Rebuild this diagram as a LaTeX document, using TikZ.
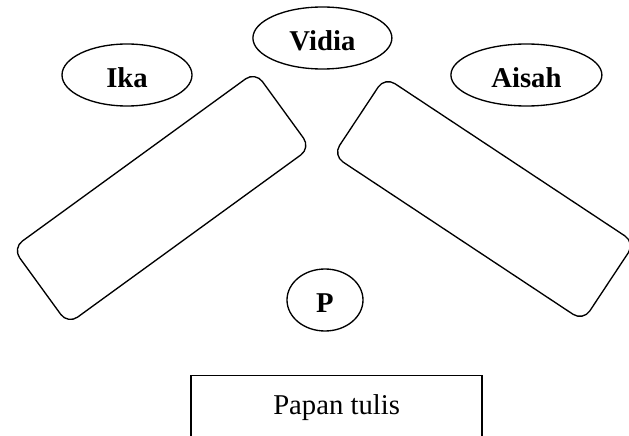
\documentclass[tikz,border=0pt]{standalone}
\usepackage{fontspec}
\setmainfont{Liberation Serif}
\usetikzlibrary{positioning,shapes.geometric}

\begin{document}
\begin{tikzpicture}[auto,
      seatstyle/.style={draw, ellipse, line width=0.95pt, inner sep=0pt, minimum height=1.55cm, text height=0.65cm, text depth=0cm, font=\fontsize{20.4}{24}\selectfont\bfseries}]
      % A table style
      \tikzstyle{tablebox} = [draw, rectangle, rounded corners=0.3cm, line width=0.95pt, minimum width=7.5cm, minimum height=2.35cm]
      \tikzstyle{boardbox} = [draw, rectangle, line width=0.95pt, minimum width=7.275cm, inner ysep=0.3cm, text height=0.675cm, text depth=1cm, font=\fontsize{20.4}{24}\selectfont]

      % Fix the frame of the picture
      \useasboundingbox (0,0) rectangle (15.725,10.875);
      \clip (0,0) rectangle (15.725,10.875);

      % Place the students
      \node (Vidia) [seatstyle, minimum width=3.475cm] at (8.06,9.925) {Vidia};
      \node (Ika)   [seatstyle, minimum width=3.25cm] at (3.175,9) {Ika};
      \node (Aisah) [seatstyle, minimum width=3.775cm] at (13.16,9) {Aisah};

      % The two tables
      \node (LeftTable)  [tablebox, rotate=36] at (4.04,5.925) {};
      \node (RightTable) [tablebox, rotate=-33.5] at (12.1,5.9) {};

      % Teacher and board
      \node (P)     [seatstyle, minimum width=1.9cm] at (8.125,3.375) {P};
      \node (Board) [boardbox, below=1.075cm of P, xshift=0.29cm] {Papan tulis};
\end{tikzpicture}
\end{document}
